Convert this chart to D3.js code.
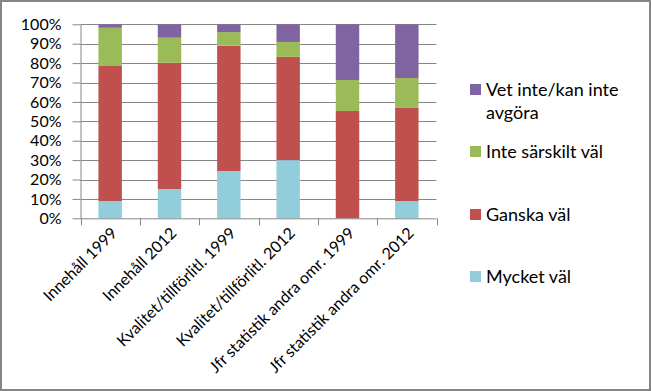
<!DOCTYPE html>
<html><head><meta charset="utf-8">
<script src="https://cdn.jsdelivr.net/npm/d3@7"></script>
<style>body{margin:0;background:#fff}svg{display:block}text{font-family:Lato,sans-serif;fill:#000}</style>
</head><body><svg id="c" width="651" height="391"></svg>
<script>
const categories = ["Innehåll 1999","Innehåll 2012","Kvalitet/tillförlitl. 1999","Kvalitet/tillförlitl. 2012","Jfr statistik andra omr. 1999","Jfr statistik andra omr. 2012"];
const seriesNames = ["Mycket väl","Ganska väl","Inte särskilt väl","Vet inte/kan inte avgöra"];
const mycketVal = [8.9, 15.1, 24.4, 30.0, 0, 8.9];
const ganskaVal = [69.6, 65.1, 64.6, 53.2, 55.3, 48.0];
const inteSarskilt = [19.7, 12.9, 7.0, 7.7, 16.0, 15.4];
const vetInte = [1.8, 6.9, 4.0, 9.1, 28.7, 27.7];
const yTicks = [0,10,20,30,40,50,60,70,80,90,100];
const colors = ["#92CDDC","#C0504D","#9BBB59","#8064A2"];

const svg = d3.select("#c");
svg.append("rect").attr("x",1).attr("y",1).attr("width",649).attr("height",389)
  .attr("fill","#fff").attr("stroke","#868686").attr("stroke-width",2);

const L=80.5, R=436.5, T=24.3, B=218.3;
const x = d3.scaleBand().domain(categories).range([L,R]).paddingInner(0.605).paddingOuter(0.3025);
const y = d3.scaleLinear().domain([0,100]).range([B,T]);

// gridlines
svg.append("g").selectAll("line").data(yTicks.slice(1)).join("line")
  .attr("x1",L).attr("x2",R).attr("y1",d=>Math.round(y(d))+0.5).attr("y2",d=>Math.round(y(d))+0.5)
  .attr("stroke","#868686").attr("stroke-width",1);

const rows = categories.map((c,i)=>({cat:c, s0:mycketVal[i], s1:ganskaVal[i], s2:inteSarskilt[i], s3:vetInte[i]}));
const stack = d3.stack().keys(["s0","s1","s2","s3"])(rows);
svg.append("g").selectAll("g").data(stack).join("g").attr("fill",(d,i)=>colors[i])
  .selectAll("rect").data(d=>d).join("rect")
  .attr("x",d=>x(d.data.cat)).attr("width",x.bandwidth())
  .attr("y",d=>y(d[1])).attr("height",d=>y(d[0])-y(d[1]));

// y axis
const ya = svg.append("g").attr("transform",`translate(${L},0)`)
  .call(d3.axisLeft(y).tickValues(yTicks).tickFormat(d=>d+"%").tickSize(8).tickSizeOuter(0));
ya.select(".domain").attr("stroke","#868686");
ya.selectAll(".tick line").attr("stroke","#868686");
ya.selectAll(".tick text").attr("x",-19).style("font-size","16px").style("font-family","Lato,sans-serif").attr("fill","#000");

// x axis
const xa = svg.append("g").attr("transform",`translate(0,${B})`);
xa.append("line").attr("x1",L).attr("x2",R).attr("y1",0.5).attr("y2",0.5).attr("stroke","#868686");
const step = (R-L)/categories.length;
xa.selectAll("line.t").data(d3.range(categories.length+1)).join("line").attr("class","t")
  .attr("x1",i=>Math.round(L+i*step)+0.5).attr("x2",i=>Math.round(L+i*step)+0.5)
  .attr("y1",0).attr("y2",7).attr("stroke","#868686");
xa.selectAll("text").data(categories).join("text")
  .attr("transform",d=>`translate(${x(d)+x.bandwidth()/2+4},${12}) rotate(-45)`)
  .attr("text-anchor","end").attr("dy","0.35em").style("font-size","16px").text(d=>d);

// legend
const leg = [
  {i:3, lines:["Vet inte/kan inte","avgöra"], y:90},
  {i:2, lines:["Inte särskilt väl"], y:152},
  {i:1, lines:["Ganska väl"], y:215},
  {i:0, lines:["Mycket väl"], y:277}
];
const lg = svg.append("g");
leg.forEach(l=>{
  lg.append("rect").attr("x",470).attr("y",l.y-6).attr("width",11).attr("height",11).attr("fill",colors[l.i]);
  l.lines.forEach((t,k)=>{
    lg.append("text").attr("x",486).attr("y",l.y+k*23).attr("dy","0.35em").style("font-size","18px").text(t);
  });
});
</script></body></html>
